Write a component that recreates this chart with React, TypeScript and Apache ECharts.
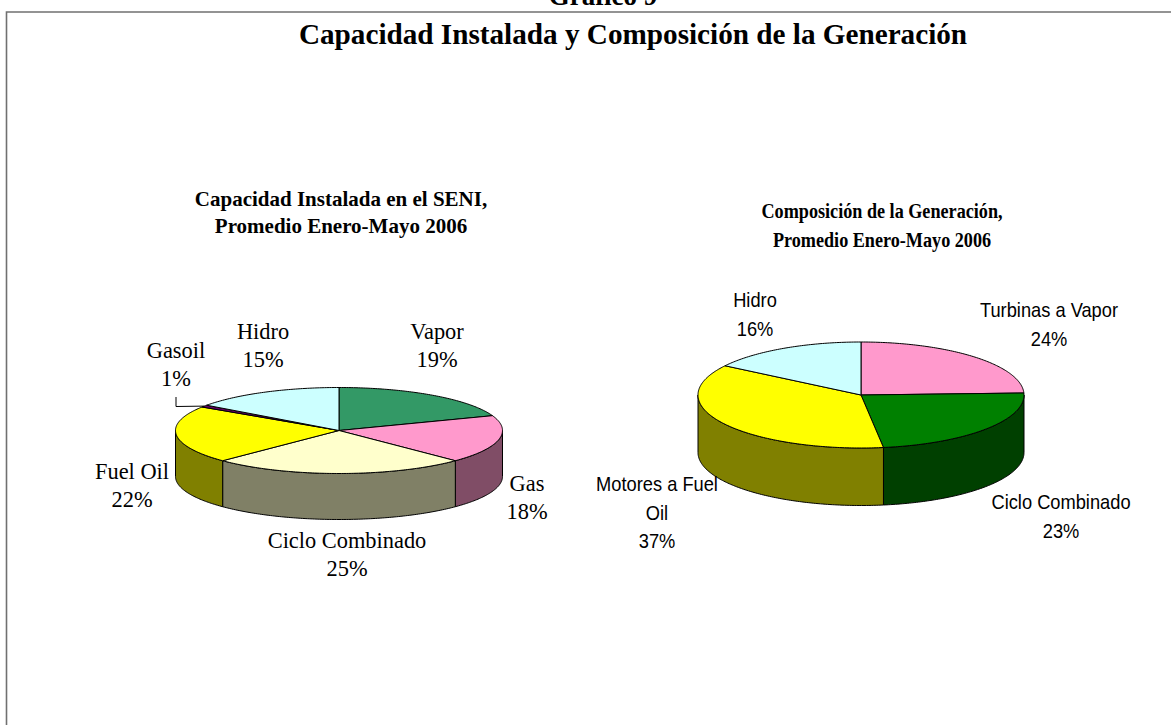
import React, { useEffect, useRef } from "react";
import * as echarts from "echarts";

const leftNames = ["Vapor", "Gas", "Ciclo Combinado", "Fuel Oil", "Gasoil", "Hidro"];
const leftValues = [19.4, 18, 25.2, 21.6, 0.8, 15];
const leftShown = [19, 18, 25, 22, 1, 15];
const rightNames = ["Turbinas a Vapor", "Ciclo Combinado", "Motores a Fuel\nOil", "Hidro"];
const rightValues = [24.4, 23.4, 36.5, 15.7];
const rightShown = [24, 23, 37, 16];
const leftTop = ["#339966", "#FF99CC", "#FFFFCC", "#FFFF00", "#660066", "#CCFFFF"];
const leftSide = ["#1A4D33", "#804D66", "#808066", "#808000", "#330033", "#668080"];
const rightTop = ["#FF99CC", "#008000", "#FFFF00", "#CCFFFF"];
const rightSide = ["#804D66", "#004000", "#808000", "#668080"];
const leftLabelPos = [[437, 331], [527, 483], [347, 540], [132, 471], [176, 350], [263, 331]];
const rightLabelPos = [[1049, 310], [1061, 502], [657, 484], [755, 300]];

const leftGeo = { cx: 339, cy: 430.5, rx: 163.5, ry: 43, depth: 46 };
const rightGeo = { cx: 861, cy: 395, rx: 163, ry: 53, depth: 57.5 };

type Geo = { cx: number; cy: number; rx: number; ry: number; depth: number };

const rim = (g: Geo, t: number, dy = 0) => [g.cx + g.rx * Math.sin(t), g.cy - g.ry * Math.cos(t) + dy];

function arcPts(g: Geo, a: number, b: number, dy = 0) {
  const n = Math.max(2, Math.ceil(Math.abs(b - a) / 0.015));
  const pts: number[][] = [];
  for (let i = 0; i <= n; i++) pts.push(rim(g, a + ((b - a) * i) / n, dy));
  return pts;
}

function spans(values: number[]) {
  const total = values.reduce((s, v) => s + v, 0);
  let c = 0;
  return values.map((v) => {
    const a = (c / total) * Math.PI * 2;
    c += v;
    return [a, (c / total) * Math.PI * 2];
  });
}

function pie3d(g: Geo, values: number[], top: string[], side: string[]) {
  const sp = spans(values);
  return {
    type: "custom",
    coordinateSystem: "none",
    silent: true,
    data: sp.map((s, i) => [s[0], s[1], i]),
    renderItem: (_: any, api: any) => {
      const a = api.value(0);
      const b = api.value(1);
      const i = api.value(2);
      const children: any[] = [];
      const lo = Math.max(a, Math.PI / 2);
      const hi = Math.min(b, (Math.PI * 3) / 2);
      if (hi > lo) {
        children.push({
          type: "polygon",
          shape: { points: [...arcPts(g, lo, hi), ...arcPts(g, hi, lo, g.depth)] },
          style: { fill: side[i], stroke: "#000", lineWidth: 1, lineJoin: "round" },
        });
      }
      children.push({
        type: "polygon",
        shape: { points: [[g.cx, g.cy], ...arcPts(g, a, b)] },
        style: { fill: top[i], stroke: "#000", lineWidth: 1, lineJoin: "round" },
      });
      return { type: "group", children };
    },
  };
}

const txt = (text: string, x: number, y: number, font: string, scaleX = 1) => ({
  type: "text",
  x,
  y,
  scaleX,
  z: 10,
  style: { text, x: 0, y: 0, font, fill: "#000", align: "center", verticalAlign: "middle" },
});

const SERIF = '"Liberation Serif"';
const SANS = '"Liberation Sans"';

function labels(names: string[], shown: number[], pos: number[][], font: string, lh: number, sx: number) {
  const out: any[] = [];
  names.forEach((n, i) => {
    const lines = [...n.split("\n"), shown[i] + "%"];
    lines.forEach((l, k) => out.push(txt(l, pos[i][0], pos[i][1] + k * lh, font, sx)));
  });
  return out;
}

export default function App() {
  const ref = useRef<HTMLDivElement>(null);
  useEffect(() => {
    const chart = echarts.init(ref.current!, null, { renderer: "svg" });
    const gasoil = spans(leftValues)[4];
    const end = rim(leftGeo, (gasoil[0] + gasoil[1]) / 2);
    chart.setOption({
      animation: false,
      backgroundColor: "#fff",
      series: [pie3d(leftGeo, leftValues, leftTop, leftSide), pie3d(rightGeo, rightValues, rightTop, rightSide)],
      graphic: [
        { type: "rect", shape: { x: 6.5, y: 12, width: 1200, height: 800 }, style: { fill: "none", stroke: "#707070", lineWidth: 1.6 }, z: 0 },
        txt("Gráfico 9", 603, -4, `bold 27px ${SERIF}`),
        txt("Capacidad Instalada y Composición de la Generación", 633, 34, `bold 29.2px ${SERIF}`),
        txt("Capacidad Instalada en el SENI,", 341, 199, `bold 21px ${SERIF}`),
        txt("Promedio Enero-Mayo 2006", 341, 226, `bold 21px ${SERIF}`),
        txt("Composición de la Generación,", 882, 211, `bold 21px ${SERIF}`, 0.865),
        txt("Promedio Enero-Mayo 2006", 882, 240, `bold 21px ${SERIF}`, 0.865),
        ...labels(leftNames, leftShown, leftLabelPos, `22.4px ${SERIF}`, 28, 1),
        ...labels(rightNames, rightShown, rightLabelPos, `21px ${SANS}`, 28.5, 0.87),
        {
          type: "polyline",
          z: 9,
          shape: { points: [[176, 397], [176, 406.5], end] },
          style: { fill: "none", stroke: "#000", lineWidth: 1 },
        },
      ],
    });
    return () => chart.dispose();
  }, []);
  return <div ref={ref} style={{ position: "fixed", left: 0, top: 0, width: 1171, height: 725 }} />;
}
